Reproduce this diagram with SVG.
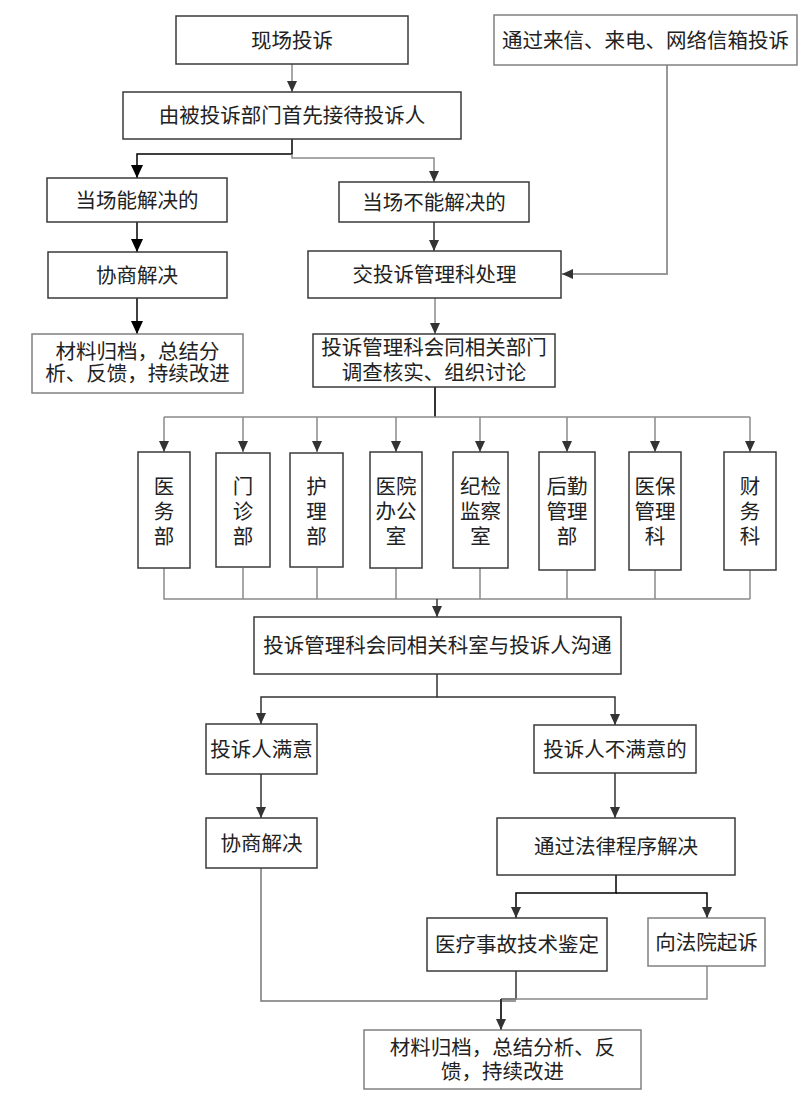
<svg xmlns="http://www.w3.org/2000/svg" width="811" height="1108" viewBox="0 0 811 1108">
<style>
.b{fill:#fff;stroke:#3a3a3a;stroke-width:1.5}
.g{fill:#fff;stroke:#808080;stroke-width:1.5}
text{font-family:"Noto Sans CJK SC","Noto Sans CJK TC",sans-serif;font-size:20.5px;fill:#222;text-anchor:middle}
.c{fill:none;stroke:#333;stroke-width:1.5}
.cg{fill:none;stroke:#8a8a8a;stroke-width:1.5}
.ck{fill:none;stroke:#000;stroke-width:1.5}
</style>
<defs>
<marker id="a" markerUnits="userSpaceOnUse" markerWidth="12" markerHeight="12" viewBox="0 0 12 12" refX="11" refY="6" orient="auto">
<path d="M0,1 L11,6 L0,11 z" fill="#333"/>
</marker>
<marker id="ak" markerUnits="userSpaceOnUse" markerWidth="14" markerHeight="14" viewBox="0 0 14 14" refX="13" refY="7" orient="auto">
<path d="M0,1 L13,7 L0,13 z" fill="#000"/>
</marker>
</defs>
<g id="connectors">
<path class="cg" d="M292 64 V92" marker-end="url(#a)"/>
<path class="ck" d="M292 139 V154 H137 V178" marker-end="url(#ak)"/>
<path class="cg" d="M292 154 V158 H434 V182" marker-end="url(#a)"/>
<path class="cg" style="stroke:#999;stroke-width:2" d="M667 65 V274 H562" marker-end="url(#a)"/>
<path class="ck" d="M137 222 V252" marker-end="url(#ak)"/>
<path class="ck" d="M137 298 V334" marker-end="url(#ak)"/>
<path class="c" d="M434 222 V251" marker-end="url(#a)"/>
<path class="cg" d="M435 298 V334" marker-end="url(#a)"/>
<path class="c" style="stroke-width:2" d="M435 387 V417"/>
<path class="cg" d="M164 417 H750"/>
<path class="cg" d="M164 417 V452" marker-end="url(#a)"/>
<path class="cg" d="M243 417 V452" marker-end="url(#a)"/>
<path class="cg" d="M317 417 V452" marker-end="url(#a)"/>
<path class="cg" d="M396 417 V452" marker-end="url(#a)"/>
<path class="cg" d="M480 417 V452" marker-end="url(#a)"/>
<path class="cg" d="M567 417 V452" marker-end="url(#a)"/>
<path class="cg" d="M655 417 V452" marker-end="url(#a)"/>
<path class="cg" d="M750 417 V452" marker-end="url(#a)"/>
<path class="cg" d="M164 568 V599 H750"/>
<path class="cg" d="M243 568 V599 M317 568 V599 M396 568 V599 M480 568 V599 M567 568 V599 M655 568 V599 M750 568 V599"/>
<path class="c" d="M437 599 V617" marker-end="url(#a)"/>
<path class="c" d="M437 674 V697 H261 V724" marker-end="url(#a)"/>
<path class="c" d="M437 697 H615 V725" marker-end="url(#a)"/>
<path class="c" d="M261 774 V818" marker-end="url(#a)"/>
<path class="c" d="M615 773 V818" marker-end="url(#a)"/>
<path class="ck" d="M616 875 V893 H516 V918" marker-end="url(#a)"/>
<path class="ck" d="M616 893 H707 V918" marker-end="url(#a)"/>
<path class="cg" style="stroke:#777" d="M261 868 V1001 H516"/>
<path class="c" d="M516 971 V999 H501"/>
<path class="cg" d="M707 966 V999 H501"/>
<path class="c" style="stroke-width:2" d="M501 999 V1030" marker-end="url(#a)"/>
</g>
<g id="n1"><rect class="b" x="176" y="16" width="232" height="48"/><text x="292" y="47.5">现场投诉</text></g>
<g id="n2"><rect class="g" x="494" y="15" width="303" height="50"/><text x="645.5" y="47.5">通过来信、来电、网络信箱投诉</text></g>
<g id="n3"><rect class="b" x="123" y="92" width="338" height="47"/><text x="292" y="123">由被投诉部门首先接待投诉人</text></g>
<g id="n4"><rect class="b" x="47" y="178" width="180" height="44"/><text x="137" y="207.5">当场能解决的</text></g>
<g id="n5"><rect class="b" x="339" y="182" width="190" height="40"/><text x="434" y="209.5">当场不能解决的</text></g>
<g id="n6"><rect class="b" x="48" y="252" width="179" height="46"/><text x="137" y="282.5">协商解决</text></g>
<g id="n7"><rect class="b" x="308" y="251" width="253" height="47"/><text x="434.5" y="282">交投诉管理科处理</text></g>
<g id="n8"><rect class="g" x="32" y="334" width="211" height="59"/><text x="137.5" y="359">材料归档，总结分<tspan x="137.5" dy="22">析、反馈，持续改进</tspan></text></g>
<g id="n9"><rect class="b" x="313" y="334" width="242" height="53"/><text x="434" y="355">投诉管理科会同相关部门<tspan x="434" dy="25">调查核实、组织讨论</tspan></text></g>
<g id="d1"><rect class="b" x="138" y="452" width="52" height="116"/><text x="164" y="494">医<tspan x="164" dy="25">务</tspan><tspan x="164" dy="25">部</tspan></text></g>
<g id="d2"><rect class="b" x="216" y="453" width="54" height="114"/><text x="243" y="494">门<tspan x="243" dy="25">诊</tspan><tspan x="243" dy="25">部</tspan></text></g>
<g id="d3"><rect class="b" x="290" y="453" width="53" height="114"/><text x="316.5" y="494">护<tspan x="316.5" dy="25">理</tspan><tspan x="316.5" dy="25">部</tspan></text></g>
<g id="d4"><rect class="b" x="370" y="452" width="52" height="116"/><text x="396" y="494">医院<tspan x="396" dy="25">办公</tspan><tspan x="396" dy="25">室</tspan></text></g>
<g id="d5"><rect class="b" x="453" y="452" width="55" height="116"/><text x="480.5" y="494">纪检<tspan x="480.5" dy="25">监察</tspan><tspan x="480.5" dy="25">室</tspan></text></g>
<g id="d6"><rect class="b" x="539" y="452" width="56" height="118"/><text x="567" y="494">后勤<tspan x="567" dy="25">管理</tspan><tspan x="567" dy="25">部</tspan></text></g>
<g id="d7"><rect class="b" x="629" y="452" width="52" height="118"/><text x="655" y="494">医保<tspan x="655" dy="25">管理</tspan><tspan x="655" dy="25">科</tspan></text></g>
<g id="d8"><rect class="b" x="724" y="452" width="52" height="118"/><text x="750" y="494">财<tspan x="750" dy="25">务</tspan><tspan x="750" dy="25">科</tspan></text></g>
<g id="n10"><rect class="b" x="254" y="617" width="367" height="57"/><text x="437.5" y="653">投诉管理科会同相关科室与投诉人沟通</text></g>
<g id="n11"><rect class="b" x="206" y="724" width="111" height="50"/><text x="261.5" y="756.5">投诉人满意</text></g>
<g id="n12"><rect class="b" x="534" y="725" width="162" height="48"/><text x="615" y="756.5">投诉人不满意的</text></g>
<g id="n13"><rect class="b" x="206" y="818" width="111" height="50"/><text x="261.5" y="850.5">协商解决</text></g>
<g id="n14"><rect class="b" x="497" y="818" width="238" height="57"/><text x="616" y="854">通过法律程序解决</text></g>
<g id="n15"><rect class="b" x="427" y="918" width="180" height="53"/><text x="517" y="952">医疗事故技术鉴定</text></g>
<g id="n16"><rect class="g" x="648" y="918" width="117" height="48"/><text x="706.5" y="949.5">向法院起诉</text></g>
<g id="n17"><rect class="g" x="364" y="1030" width="277" height="59"/><text x="502.5" y="1055">材料归档，总结分析、反<tspan x="502.5" dy="24">馈，持续改进</tspan></text></g>
</svg>
